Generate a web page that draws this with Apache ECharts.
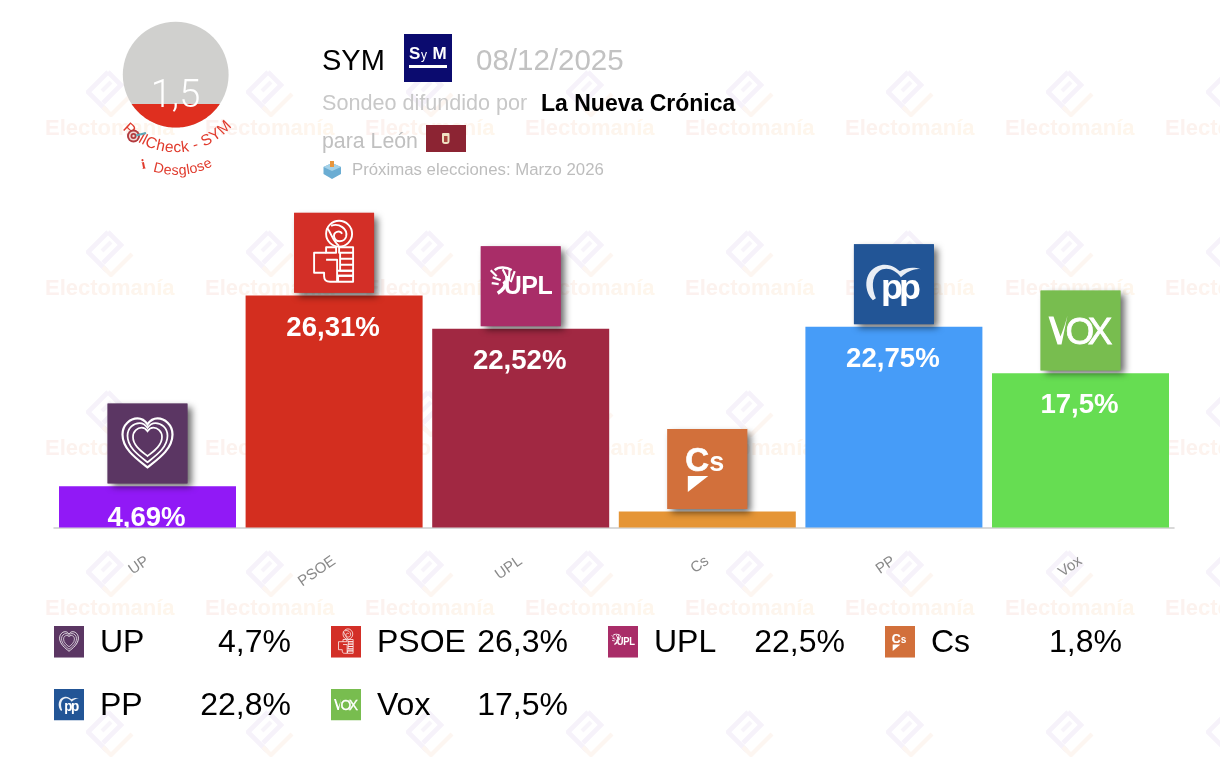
<!DOCTYPE html>
<html><head><meta charset="utf-8">
<style>html,body{margin:0;padding:0;background:#fff}#c{width:1220px;height:758px}</style>
<script src="https://cdn.jsdelivr.net/npm/echarts@6/dist/echarts.min.js"></script>
</head><body><div id="c"></div>
<script>
const categories = ['UP','PSOE','UPL','Cs','PP','Vox'];
const seriesValues = [4.69,26.31,22.52,1.8,22.75,17.5];
const barLabels = ['4,69%','26,31%','22,52%','','22,75%','17,5%'];
const barColors = ['#9119f6','#d32e1f','#a12842','#e59536','#469cf8','#66dd52'];
const logoColors = ['#5b3663','#d32f27','#a92d68','#d2703b','#225596','#78bd4f'];
const legendValues = ['4,7%','26,3%','22,5%','1,8%','22,8%','17,5%'];
const FONT = '"Liberation Sans"';

function svgUrl(w,h,vb,body){
  return 'data:image/svg+xml;charset=utf-8,'+encodeURIComponent(
    `<svg xmlns="http://www.w3.org/2000/svg" width="${w}" height="${h}" viewBox="${vb}" preserveAspectRatio="none">${body}</svg>`);
}
const heart='M40 64C30 56 15 46 15 31C15 21 23 15 30 15C35 15 38 18 40 21C42 18 45 15 50 15C57 15 65 21 65 31C65 46 50 56 40 64Z';
const logoBodies = [
 `<g fill="none" stroke="#fff" stroke-width="2.2"><path d="${heart}"/><path d="${heart}" transform="translate(40 38) scale(.8) translate(-40 -38)"/><path d="${heart}" transform="translate(40 37) scale(.58) translate(-40 -37)" stroke-width="3"/></g>`,
 `<g fill="none" stroke="#fff" stroke-width="1.9" stroke-linejoin="round"><circle cx="45" cy="21" r="13"/><path d="M37 13C45 10 54 16 52 24C50 30 41 30 40 24C39 19 46 17 48 21"/><path d="M33 15C38 22 39 29 45 33"/><path d="M32 34.5H42V40H32ZM45 34.5H59V40H45ZM46 40H59V46H46ZM46 46H59V52H46ZM46 52H59V58H46ZM44 63H59V69H44Z"/><path d="M32 40H20V60H30V63.5C30 67 32 69 36 69H43V47H32"/><path d="M43 58H59V63H43"/></g>`,
 `<text x="72" y="48" text-anchor="end" font-family="Liberation Sans" font-weight="bold" font-size="25" fill="#fff" textLength="49">UPL</text><g fill="none" stroke="#fff" stroke-width="2.2"><path d="M10 24L16 30M12 31L20 34M22 23L26 31M29 23L28 35M34 25L30 36M11 37L18 38"/><path d="M23 35C27 39 22 44 17 47" stroke-width="3.5"/><path d="M14 24C18 20 26 21 31 24" stroke-width="2.5"/></g>`,
 `<text x="18" y="42" font-family="Liberation Sans" font-weight="bold" font-size="33" fill="#fff" stroke="#fff" stroke-width=".6">C</text><text x="42" y="42" font-family="Liberation Sans" font-weight="bold" font-size="27" fill="#fff">s</text><path d="M20.5 47H41L20.5 63Z" fill="#fff"/>`,
 `<path d="M19 56C8 45 11 24 27 21C37 19 43 25 46 27C52 24 58 22 67 25C59 24 53 28 47 33C41 25 32 22 25 27C17 33 18 45 22 54Z" fill="#e9eef5"/><text x="27" y="55" font-family="Liberation Sans" font-weight="bold" font-size="36" fill="#fff" textLength="40">pp</text>`,
 `<path d="M8 26L17 54H21L27 25C24 36 22 41 20 46L13 26Z" fill="#fff"/><text x="25" y="54" font-family="Liberation Sans" font-size="37" fill="#fff" textLength="47" stroke="#fff" stroke-width=".8">OX</text>`
];
const logoUrls = logoBodies.map((b,i)=>svgUrl(240,240,'0 0 80 80',`<rect width="80" height="80" fill="${logoColors[i]}"/>${b}`));
const diamondUrl = svgUrl(144,144,'0 0 48 48',
 `<g fill="none" stroke-linejoin="miter"><path d="M22 3L2 23L21 42" stroke="#f6f2fa" stroke-width="4.6"/><path d="M22 3L35 16L17 34" stroke="#f6f2fa" stroke-width="4.6"/><path d="M16 22L25 13" stroke="#f7f4fa" stroke-width="4"/><path d="M46 25L25 46L17 38" stroke="#fdf6f1" stroke-width="4.2"/></g>`);

const els = [];
const meas=document.createElement('canvas').getContext('2d');
const wmWord=[...'Electomanía'];
meas.font='bold 22px '+FONT;
const wmPos=[]; { let px=0; wmWord.forEach(ch=>{wmPos.push(px);px+=meas.measureText(ch).width;}); }
function mix(t){const a=[252,241,239],b=[254,246,236];return 'rgb('+a.map((v,k)=>Math.round(v+(b[k]-v)*t)).join(',')+')';}
for(let c=0;c<8;c++){
  for(let r=0;r<5;r++){
    els.push({type:'image',silent:true,z:-5,x:110+c*160-24,y:93+r*160-24,style:{image:diamondUrl,width:48,height:48}});
    if(r<4) wmWord.forEach((ch,k)=>els.push({type:'text',silent:true,z:-5,x:45+c*160+wmPos[k],y:128.5+r*160,style:{text:ch,font:'bold 22px '+FONT,fill:mix(k/10),align:'left',verticalAlign:'middle'}}));
  }
}
function txt(text,x,y,font,fill,align){
  els.push({type:'text',silent:true,z:5,x,y,style:{text,font:font+' '+FONT,fill,align:align||'left',verticalAlign:'middle'}});
}
const gc=[175.7,74.7], gr=52.9, gy=104;
els.push({type:'circle',z:5,silent:true,shape:{cx:gc[0],cy:gc[1],r:gr},style:{fill:'#d0d0ce'}});
const segPts=[]; const a0=Math.asin((gy-gc[1])/gr);
for(let i=0;i<=60;i++){const a=a0+(Math.PI-2*a0)*i/60;segPts.push([gc[0]+gr*Math.cos(a),gc[1]+gr*Math.sin(a)]);}
els.push({type:'polygon',z:5,silent:true,shape:{points:segPts},style:{fill:'#df2f1f'}});
els.push({type:'text',silent:true,z:6,x:175.5,y:97,style:{text:'1,5',font:'300 38px Roboto',fill:'#fff',align:'center',verticalAlign:'middle'}});
function curved(text,cx,cy,r,size,skip,offset){
  meas.font=size+'px '+FONT;
  const total=meas.measureText(text).width; let pos=-total/2+(offset||0);
  [...text].forEach((ch,i)=>{
    const w=meas.measureText(ch).width, phi=(pos+w/2)/r;
    pos+=w;
    if(ch===' '||i===skip) return;
    els.push({type:'text',silent:true,z:6,x:cx+r*Math.sin(phi),y:cy+r*Math.cos(phi),rotation:phi,
      style:{text:ch,font:size+'px '+FONT,fill:'#e03a2c',align:'center',verticalAlign:'middle'}});
  });
}
curved('PollCheck - SYM',175.7,79,69,15.5,1,2);
curved('Desglose',176,96,75,14.2,-1,7);
els.push({type:'text',silent:true,z:6,x:143.5,y:165,rotation:0.2,style:{text:'i',font:'bold 14px "Liberation Serif"',fill:'#e03a2c',align:'center',verticalAlign:'middle'}});
[[6.5,'#b23a3e'],[4.6,'#f0d8d6'],[3,'#b23a3e'],[1.2,'#f0d8d6']].forEach(p=>els.push({type:'circle',silent:true,z:7,shape:{cx:133.5,cy:136,r:p[0]},style:{fill:p[1]}}));
els.push({type:'line',silent:true,z:7,shape:{x1:136,y1:135.5,x2:146,y2:133},style:{stroke:'#5fa8b8',lineWidth:2}});
txt('SYM',322,61.5,'29px','#000');
els.push({type:'rect',silent:true,z:5,shape:{x:404,y:34,width:48,height:48},style:{fill:'#0b0b6f'}});
txt('S',409,54,'bold 17px','#fff');
txt('y',421,56,'12px','#fff');
txt('M',432.5,54,'bold 17px','#fff');
els.push({type:'rect',silent:true,z:6,shape:{x:409,y:65,width:38,height:3},style:{fill:'#fff'}});
txt('08/12/2025',476,61.5,'29.5px','#c2c2c2');
txt('Sondeo difundido por',322,104,'21.6px','#c8c8c8');
txt('La Nueva Crónica',541,105,'bold 23px','#000');
txt('para León',322,142.5,'21.3px','#c0c0c0');
els.push({type:'rect',silent:true,z:5,shape:{x:426,y:125,width:40,height:27},style:{fill:'#8c2433'}});
els.push({type:'rect',silent:true,z:6,shape:{x:442,y:133,width:7.5,height:11,r:[1,1,3,3]},style:{fill:'#efe2c4'}});
els.push({type:'rect',silent:true,z:6,shape:{x:444,y:136,width:3.5,height:6},style:{fill:'#a8473f'}});
els.push({type:'polygon',silent:true,z:5,shape:{points:[[323.5,167],[332,163],[341,167],[341,174],[332,179],[323.5,174]]},style:{fill:'#6badd3'}});
els.push({type:'polygon',silent:true,z:5,shape:{points:[[323.5,167],[332,163],[341,167],[332,171]]},style:{fill:'#a5d2e8'}});
els.push({type:'rect',silent:true,z:6,shape:{x:330,y:161,width:4,height:6},style:{fill:'#e8963c'}});
txt('Próximas elecciones: Marzo 2026',352,170.5,'16.8px','#bdbdbd');
const colX=[54,331,608,885], rowY=[641.7,704.5];
categories.forEach((n,i)=>{
  const c=i%4, r=Math.floor(i/4);
  els.push({type:'image',silent:true,z:5,x:colX[c],y:rowY[r]-16,style:{image:logoUrls[i],width:30,height:32}});
  txt(n,colX[c]+46,rowY[r]+1.5,'32px','#000');
  txt(legendValues[i],colX[c]+237,rowY[r]+1.5,'32px','#000','right');
});

const chart=echarts.init(document.getElementById('c'),null,{renderer:'canvas',width:1220,height:758});
chart.setOption({
  animation:false,
  backgroundColor:'#fff',
  graphic:{elements:els},
  grid:{left:54.2,width:1119.6,top:262.9,height:264.6},
  xAxis:{type:'category',data:categories,
    axisLine:{lineStyle:{color:'#d9d9d9',width:2}},axisTick:{show:false},
    axisLabel:{rotate:35,margin:32,color:'#8a8a8a',fontSize:15,fontFamily:FONT,interval:0}},
  yAxis:{type:'value',min:0,max:30,show:false},
  series:[
    {type:'bar',data:seriesValues.map((v,i)=>({value:v,itemStyle:{color:barColors[i]}})),barWidth:177,silent:true},
    {type:'custom',silent:true,z:4,data:seriesValues.map((v,i)=>[i,v]),clip:false,
     renderItem(params,api){
       const i=api.value(0), v=api.value(1), p=api.coord([i,v]), b=api.coord([i,0]);
       const bx=p[0]-40, by=p[1]-82.7;
       return {type:'group',children:[
         {type:'rect',shape:{x:bx,y:by,width:80,height:80},style:{fill:logoColors[i],shadowBlur:7,shadowColor:'rgba(0,0,0,.6)',shadowOffsetX:4,shadowOffsetY:4}},
         {type:'image',style:{image:logoUrls[i],x:bx,y:by,width:80,height:80}},
         {type:'text',x:p[0]-1,y:p[1]+32.5,
          clipPath:{type:'rect',shape:{x:-88,y:-32.5,width:177,height:b[1]-p[1]}},
          style:{text:barLabels[i],font:'bold 27.6px '+FONT,fill:'#fff',align:'center',verticalAlign:'middle'}}
       ]};
     }}
  ]
});
</script></body></html>
